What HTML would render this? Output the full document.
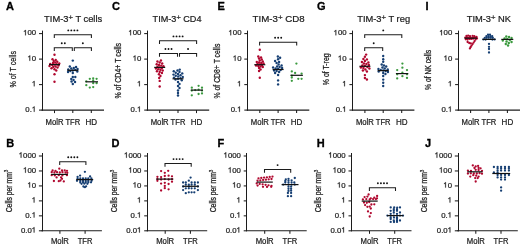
<!DOCTYPE html>
<html><head><meta charset="utf-8"><style>
html,body{margin:0;padding:0;background:#fff;}
svg{display:block;font-family:"Liberation Sans", sans-serif;filter:blur(0.4px);}
</style></head><body>
<svg width="520" height="246" viewBox="0 0 520 246">
<rect width="520" height="246" fill="#fff"/>
<text x="5.90" y="10.00" font-size="11" text-anchor="start" font-weight="bold" fill="#000" stroke="#000" stroke-width="0.3">A</text>
<text x="44.10" y="22.0" font-size="9.5" fill="#1c1c1c" textLength="58.1" lengthAdjust="spacingAndGlyphs" stroke="#1c1c1c" stroke-width="0.22">TIM-3<tspan font-size="7.8" dy="-2.2">+</tspan><tspan dy="2.2"> T cells</tspan></text>
<line x1="42.50" y1="30.60" x2="42.50" y2="110.60" stroke="#1c1c1c" stroke-width="1.05"/>
<line x1="41.50" y1="110.10" x2="104.00" y2="110.10" stroke="#1c1c1c" stroke-width="1.05"/>
<line x1="39.00" y1="33.60" x2="42.50" y2="33.60" stroke="#1c1c1c" stroke-width="1.05"/>
<text x="23.19" y="35.30" font-size="7.8" fill="#1c1c1c" stroke="#1c1c1c" stroke-width="0.22"> 00</text>
<path d="M696 0L516 0L516 1120Q440 1050 340 995Q250 945 180 920L180 1090Q330 1160 430 1250Q520 1330 560 1409L696 1409Z" transform="translate(23.186,35.300) scale(0.00381,-0.00381)" fill="#1c1c1c" stroke="#1c1c1c" stroke-width="57.8"/>
<line x1="39.00" y1="59.10" x2="42.50" y2="59.10" stroke="#1c1c1c" stroke-width="1.05"/>
<text x="27.52" y="60.80" font-size="7.8" fill="#1c1c1c" stroke="#1c1c1c" stroke-width="0.22"> 0</text>
<path d="M696 0L516 0L516 1120Q440 1050 340 995Q250 945 180 920L180 1090Q330 1160 430 1250Q520 1330 560 1409L696 1409Z" transform="translate(27.524,60.800) scale(0.00381,-0.00381)" fill="#1c1c1c" stroke="#1c1c1c" stroke-width="57.8"/>
<line x1="39.00" y1="84.60" x2="42.50" y2="84.60" stroke="#1c1c1c" stroke-width="1.05"/>
<text x="31.86" y="86.30" font-size="7.8" fill="#1c1c1c" stroke="#1c1c1c" stroke-width="0.22"> </text>
<path d="M696 0L516 0L516 1120Q440 1050 340 995Q250 945 180 920L180 1090Q330 1160 430 1250Q520 1330 560 1409L696 1409Z" transform="translate(31.862,86.300) scale(0.00381,-0.00381)" fill="#1c1c1c" stroke="#1c1c1c" stroke-width="57.8"/>
<line x1="39.00" y1="110.10" x2="42.50" y2="110.10" stroke="#1c1c1c" stroke-width="1.05"/>
<text x="25.36" y="111.80" font-size="7.8" fill="#1c1c1c" stroke="#1c1c1c" stroke-width="0.22">0. </text>
<path d="M696 0L516 0L516 1120Q440 1050 340 995Q250 945 180 920L180 1090Q330 1160 430 1250Q520 1330 560 1409L696 1409Z" transform="translate(31.862,111.800) scale(0.00381,-0.00381)" fill="#1c1c1c" stroke="#1c1c1c" stroke-width="57.8"/>
<line x1="54.50" y1="110.10" x2="54.50" y2="113.10" stroke="#1c1c1c" stroke-width="1.05"/>
<line x1="72.80" y1="110.10" x2="72.80" y2="113.10" stroke="#1c1c1c" stroke-width="1.05"/>
<line x1="91.30" y1="110.10" x2="91.30" y2="113.10" stroke="#1c1c1c" stroke-width="1.05"/>
<text x="54.50" y="124.60" font-size="8.3" text-anchor="middle" font-weight="normal" fill="#1c1c1c" stroke="#1c1c1c" stroke-width="0.22" textLength="18.0" lengthAdjust="spacingAndGlyphs">MolR</text>
<text x="72.80" y="124.60" font-size="8.3" text-anchor="middle" font-weight="normal" fill="#1c1c1c" stroke="#1c1c1c" stroke-width="0.22" textLength="14.8" lengthAdjust="spacingAndGlyphs">TFR</text>
<text x="91.30" y="124.60" font-size="8.3" text-anchor="middle" font-weight="normal" fill="#1c1c1c" stroke="#1c1c1c" stroke-width="0.22" textLength="11.6" lengthAdjust="spacingAndGlyphs">HD</text>
<text x="0" y="0" font-size="8.3" text-anchor="middle" fill="#1c1c1c" textLength="36.6" lengthAdjust="spacingAndGlyphs" transform="translate(15.60,69.30) rotate(-90)" stroke="#1c1c1c" stroke-width="0.25">% of T cells</text>
<path d="M54.30 38.10V34.80H91.40V38.10" fill="none" stroke="#1c1c1c" stroke-width="1.05"/>
<circle cx="68.27" cy="30.40" r="0.95" fill="#111"/>
<circle cx="71.32" cy="30.40" r="0.95" fill="#111"/>
<circle cx="74.38" cy="30.40" r="0.95" fill="#111"/>
<circle cx="77.42" cy="30.40" r="0.95" fill="#111"/>
<path d="M54.30 51.00V47.70H72.30V51.00" fill="none" stroke="#1c1c1c" stroke-width="1.05"/>
<circle cx="61.77" cy="43.30" r="0.95" fill="#111"/>
<circle cx="64.83" cy="43.30" r="0.95" fill="#111"/>
<path d="M74.30 51.00V47.70H91.40V51.00" fill="none" stroke="#1c1c1c" stroke-width="1.05"/>
<circle cx="82.85" cy="43.30" r="0.95" fill="#111"/>
<circle cx="54.50" cy="64.60" r="1.2" fill="#b0072e"/>
<circle cx="56.75" cy="64.30" r="1.2" fill="#b0072e"/>
<circle cx="52.25" cy="65.00" r="1.2" fill="#b0072e"/>
<circle cx="50.25" cy="64.00" r="1.2" fill="#b0072e"/>
<circle cx="58.50" cy="65.50" r="1.2" fill="#b0072e"/>
<circle cx="59.25" cy="63.50" r="1.2" fill="#b0072e"/>
<circle cx="49.50" cy="66.00" r="1.2" fill="#b0072e"/>
<circle cx="53.00" cy="63.00" r="1.2" fill="#b0072e"/>
<circle cx="55.50" cy="66.50" r="1.2" fill="#b0072e"/>
<circle cx="55.25" cy="62.50" r="1.2" fill="#b0072e"/>
<circle cx="53.25" cy="67.00" r="1.2" fill="#b0072e"/>
<circle cx="57.25" cy="61.80" r="1.2" fill="#b0072e"/>
<circle cx="57.50" cy="67.60" r="1.2" fill="#b0072e"/>
<circle cx="53.75" cy="61.00" r="1.2" fill="#b0072e"/>
<circle cx="51.50" cy="68.30" r="1.2" fill="#b0072e"/>
<circle cx="55.75" cy="60.00" r="1.2" fill="#b0072e"/>
<circle cx="54.50" cy="69.20" r="1.2" fill="#b0072e"/>
<circle cx="52.50" cy="59.30" r="1.2" fill="#b0072e"/>
<circle cx="56.25" cy="70.50" r="1.2" fill="#b0072e"/>
<circle cx="54.50" cy="74.30" r="1.2" fill="#b0072e"/>
<circle cx="54.50" cy="54.80" r="1.2" fill="#b0072e"/>
<circle cx="54.50" cy="81.70" r="1.2" fill="#b0072e"/>
<line x1="49.00" y1="64.60" x2="60.00" y2="64.60" stroke="#111" stroke-width="1.2"/>
<circle cx="72.80" cy="70.50" r="1.2" fill="#163f73"/>
<circle cx="75.30" cy="70.00" r="1.2" fill="#163f73"/>
<circle cx="70.30" cy="71.00" r="1.2" fill="#163f73"/>
<circle cx="68.30" cy="69.50" r="1.2" fill="#163f73"/>
<circle cx="77.30" cy="71.50" r="1.2" fill="#163f73"/>
<circle cx="77.55" cy="69.00" r="1.2" fill="#163f73"/>
<circle cx="68.05" cy="72.00" r="1.2" fill="#163f73"/>
<circle cx="71.30" cy="68.50" r="1.2" fill="#163f73"/>
<circle cx="73.80" cy="68.00" r="1.2" fill="#163f73"/>
<circle cx="72.80" cy="73.00" r="1.2" fill="#163f73"/>
<circle cx="76.05" cy="67.00" r="1.2" fill="#163f73"/>
<circle cx="69.80" cy="66.50" r="1.2" fill="#163f73"/>
<circle cx="72.80" cy="77.00" r="1.2" fill="#163f73"/>
<circle cx="75.30" cy="77.00" r="1.2" fill="#163f73"/>
<circle cx="71.30" cy="79.00" r="1.2" fill="#163f73"/>
<circle cx="72.80" cy="60.60" r="1.2" fill="#163f73"/>
<circle cx="73.55" cy="80.00" r="1.2" fill="#163f73"/>
<circle cx="71.55" cy="81.50" r="1.2" fill="#163f73"/>
<circle cx="75.05" cy="82.00" r="1.2" fill="#163f73"/>
<circle cx="72.80" cy="84.00" r="1.2" fill="#163f73"/>
<line x1="67.30" y1="70.30" x2="78.30" y2="70.30" stroke="#111" stroke-width="1.2"/>
<circle cx="89.80" cy="78.80" r="1.15" fill="#3a9a3e"/>
<circle cx="93.20" cy="78.30" r="1.15" fill="#3a9a3e"/>
<circle cx="96.60" cy="78.80" r="1.15" fill="#3a9a3e"/>
<circle cx="86.30" cy="81.30" r="1.15" fill="#3a9a3e"/>
<circle cx="93.20" cy="80.50" r="1.15" fill="#3a9a3e"/>
<circle cx="93.20" cy="83.20" r="1.15" fill="#3a9a3e"/>
<circle cx="96.60" cy="83.20" r="1.15" fill="#3a9a3e"/>
<circle cx="86.30" cy="85.20" r="1.15" fill="#3a9a3e"/>
<circle cx="89.80" cy="87.60" r="1.15" fill="#3a9a3e"/>
<circle cx="93.20" cy="87.10" r="1.15" fill="#3a9a3e"/>
<line x1="85.40" y1="81.80" x2="98.00" y2="81.80" stroke="#111" stroke-width="1.2"/>
<text x="111.90" y="10.00" font-size="11" text-anchor="start" font-weight="bold" fill="#000" stroke="#000" stroke-width="0.3">C</text>
<text x="152.60" y="22.0" font-size="9.5" fill="#1c1c1c" textLength="48.9" lengthAdjust="spacingAndGlyphs" stroke="#1c1c1c" stroke-width="0.22">TIM-3<tspan font-size="7.8" dy="-2.2">+</tspan><tspan dy="2.2"> CD4</tspan></text>
<line x1="147.50" y1="30.60" x2="147.50" y2="110.60" stroke="#1c1c1c" stroke-width="1.05"/>
<line x1="146.70" y1="110.10" x2="209.20" y2="110.10" stroke="#1c1c1c" stroke-width="1.05"/>
<line x1="144.20" y1="33.60" x2="147.50" y2="33.60" stroke="#1c1c1c" stroke-width="1.05"/>
<text x="128.39" y="35.30" font-size="7.8" fill="#1c1c1c" stroke="#1c1c1c" stroke-width="0.22"> 00</text>
<path d="M696 0L516 0L516 1120Q440 1050 340 995Q250 945 180 920L180 1090Q330 1160 430 1250Q520 1330 560 1409L696 1409Z" transform="translate(128.386,35.300) scale(0.00381,-0.00381)" fill="#1c1c1c" stroke="#1c1c1c" stroke-width="57.8"/>
<line x1="144.20" y1="59.10" x2="147.50" y2="59.10" stroke="#1c1c1c" stroke-width="1.05"/>
<text x="132.72" y="60.80" font-size="7.8" fill="#1c1c1c" stroke="#1c1c1c" stroke-width="0.22"> 0</text>
<path d="M696 0L516 0L516 1120Q440 1050 340 995Q250 945 180 920L180 1090Q330 1160 430 1250Q520 1330 560 1409L696 1409Z" transform="translate(132.724,60.800) scale(0.00381,-0.00381)" fill="#1c1c1c" stroke="#1c1c1c" stroke-width="57.8"/>
<line x1="144.20" y1="84.60" x2="147.50" y2="84.60" stroke="#1c1c1c" stroke-width="1.05"/>
<text x="137.06" y="86.30" font-size="7.8" fill="#1c1c1c" stroke="#1c1c1c" stroke-width="0.22"> </text>
<path d="M696 0L516 0L516 1120Q440 1050 340 995Q250 945 180 920L180 1090Q330 1160 430 1250Q520 1330 560 1409L696 1409Z" transform="translate(137.062,86.300) scale(0.00381,-0.00381)" fill="#1c1c1c" stroke="#1c1c1c" stroke-width="57.8"/>
<line x1="144.20" y1="110.10" x2="147.50" y2="110.10" stroke="#1c1c1c" stroke-width="1.05"/>
<text x="130.56" y="111.80" font-size="7.8" fill="#1c1c1c" stroke="#1c1c1c" stroke-width="0.22">0. </text>
<path d="M696 0L516 0L516 1120Q440 1050 340 995Q250 945 180 920L180 1090Q330 1160 430 1250Q520 1330 560 1409L696 1409Z" transform="translate(137.062,111.800) scale(0.00381,-0.00381)" fill="#1c1c1c" stroke="#1c1c1c" stroke-width="57.8"/>
<line x1="159.70" y1="110.10" x2="159.70" y2="113.10" stroke="#1c1c1c" stroke-width="1.05"/>
<line x1="178.00" y1="110.10" x2="178.00" y2="113.10" stroke="#1c1c1c" stroke-width="1.05"/>
<line x1="196.50" y1="110.10" x2="196.50" y2="113.10" stroke="#1c1c1c" stroke-width="1.05"/>
<text x="159.70" y="124.60" font-size="8.3" text-anchor="middle" font-weight="normal" fill="#1c1c1c" stroke="#1c1c1c" stroke-width="0.22" textLength="18.0" lengthAdjust="spacingAndGlyphs">MolR</text>
<text x="178.00" y="124.60" font-size="8.3" text-anchor="middle" font-weight="normal" fill="#1c1c1c" stroke="#1c1c1c" stroke-width="0.22" textLength="14.8" lengthAdjust="spacingAndGlyphs">TFR</text>
<text x="196.50" y="124.60" font-size="8.3" text-anchor="middle" font-weight="normal" fill="#1c1c1c" stroke="#1c1c1c" stroke-width="0.22" textLength="11.6" lengthAdjust="spacingAndGlyphs">HD</text>
<text x="0" y="0" font-size="8.3" text-anchor="middle" fill="#1c1c1c" textLength="55.6" lengthAdjust="spacingAndGlyphs" transform="translate(120.90,70.70) rotate(-90)" stroke="#1c1c1c" stroke-width="0.25">% of CD4+ T cells</text>
<path d="M159.50 44.10V40.80H196.60V44.10" fill="none" stroke="#1c1c1c" stroke-width="1.05"/>
<circle cx="173.48" cy="36.40" r="0.95" fill="#111"/>
<circle cx="176.53" cy="36.40" r="0.95" fill="#111"/>
<circle cx="179.58" cy="36.40" r="0.95" fill="#111"/>
<circle cx="182.62" cy="36.40" r="0.95" fill="#111"/>
<path d="M159.50 56.70V53.40H177.50V56.70" fill="none" stroke="#1c1c1c" stroke-width="1.05"/>
<circle cx="165.45" cy="49.00" r="0.95" fill="#111"/>
<circle cx="168.50" cy="49.00" r="0.95" fill="#111"/>
<circle cx="171.55" cy="49.00" r="0.95" fill="#111"/>
<path d="M179.50 56.70V53.40H196.60V56.70" fill="none" stroke="#1c1c1c" stroke-width="1.05"/>
<circle cx="188.05" cy="49.00" r="0.95" fill="#111"/>
<circle cx="159.70" cy="67.40" r="1.2" fill="#b0072e"/>
<circle cx="161.95" cy="68.00" r="1.2" fill="#b0072e"/>
<circle cx="157.45" cy="66.80" r="1.2" fill="#b0072e"/>
<circle cx="155.95" cy="68.60" r="1.2" fill="#b0072e"/>
<circle cx="163.45" cy="66.20" r="1.2" fill="#b0072e"/>
<circle cx="158.20" cy="69.20" r="1.2" fill="#b0072e"/>
<circle cx="161.20" cy="65.60" r="1.2" fill="#b0072e"/>
<circle cx="160.45" cy="69.80" r="1.2" fill="#b0072e"/>
<circle cx="158.95" cy="65.00" r="1.2" fill="#b0072e"/>
<circle cx="162.70" cy="70.50" r="1.2" fill="#b0072e"/>
<circle cx="156.70" cy="64.30" r="1.2" fill="#b0072e"/>
<circle cx="156.95" cy="71.20" r="1.2" fill="#b0072e"/>
<circle cx="162.20" cy="63.50" r="1.2" fill="#b0072e"/>
<circle cx="159.70" cy="72.00" r="1.2" fill="#b0072e"/>
<circle cx="159.70" cy="62.50" r="1.2" fill="#b0072e"/>
<circle cx="161.95" cy="73.00" r="1.2" fill="#b0072e"/>
<circle cx="157.45" cy="61.50" r="1.2" fill="#b0072e"/>
<circle cx="158.95" cy="74.20" r="1.2" fill="#b0072e"/>
<circle cx="160.95" cy="60.50" r="1.2" fill="#b0072e"/>
<circle cx="160.45" cy="76.00" r="1.2" fill="#b0072e"/>
<circle cx="159.20" cy="78.00" r="1.2" fill="#b0072e"/>
<circle cx="159.70" cy="80.90" r="1.2" fill="#b0072e"/>
<circle cx="159.70" cy="86.50" r="1.2" fill="#b0072e"/>
<line x1="154.20" y1="67.40" x2="165.20" y2="67.40" stroke="#111" stroke-width="1.2"/>
<circle cx="178.00" cy="78.80" r="1.2" fill="#163f73"/>
<circle cx="180.50" cy="78.20" r="1.2" fill="#163f73"/>
<circle cx="175.50" cy="79.50" r="1.2" fill="#163f73"/>
<circle cx="174.00" cy="77.60" r="1.2" fill="#163f73"/>
<circle cx="181.75" cy="80.30" r="1.2" fill="#163f73"/>
<circle cx="182.75" cy="77.00" r="1.2" fill="#163f73"/>
<circle cx="178.25" cy="76.40" r="1.2" fill="#163f73"/>
<circle cx="175.75" cy="75.80" r="1.2" fill="#163f73"/>
<circle cx="178.00" cy="82.00" r="1.2" fill="#163f73"/>
<circle cx="180.50" cy="75.20" r="1.2" fill="#163f73"/>
<circle cx="173.50" cy="74.60" r="1.2" fill="#163f73"/>
<circle cx="178.00" cy="74.00" r="1.2" fill="#163f73"/>
<circle cx="179.50" cy="84.00" r="1.2" fill="#163f73"/>
<circle cx="182.25" cy="73.40" r="1.2" fill="#163f73"/>
<circle cx="175.75" cy="72.70" r="1.2" fill="#163f73"/>
<circle cx="179.50" cy="72.00" r="1.2" fill="#163f73"/>
<circle cx="178.00" cy="86.00" r="1.2" fill="#163f73"/>
<circle cx="173.75" cy="71.30" r="1.2" fill="#163f73"/>
<circle cx="177.50" cy="70.50" r="1.2" fill="#163f73"/>
<circle cx="179.75" cy="69.60" r="1.2" fill="#163f73"/>
<circle cx="179.50" cy="88.00" r="1.2" fill="#163f73"/>
<circle cx="178.00" cy="90.50" r="1.2" fill="#163f73"/>
<circle cx="178.00" cy="93.00" r="1.2" fill="#163f73"/>
<circle cx="178.00" cy="95.50" r="1.2" fill="#163f73"/>
<line x1="172.50" y1="78.80" x2="183.50" y2="78.80" stroke="#111" stroke-width="1.2"/>
<circle cx="191.80" cy="87.70" r="1.15" fill="#3a9a3e"/>
<circle cx="198.60" cy="85.80" r="1.15" fill="#3a9a3e"/>
<circle cx="202.00" cy="87.70" r="1.15" fill="#3a9a3e"/>
<circle cx="191.80" cy="90.60" r="1.15" fill="#3a9a3e"/>
<circle cx="195.20" cy="90.10" r="1.15" fill="#3a9a3e"/>
<circle cx="198.60" cy="89.70" r="1.15" fill="#3a9a3e"/>
<circle cx="202.00" cy="90.60" r="1.15" fill="#3a9a3e"/>
<circle cx="198.60" cy="94.00" r="1.15" fill="#3a9a3e"/>
<circle cx="202.00" cy="93.40" r="1.15" fill="#3a9a3e"/>
<circle cx="191.80" cy="95.30" r="1.15" fill="#3a9a3e"/>
<line x1="190.80" y1="90.10" x2="203.00" y2="90.10" stroke="#111" stroke-width="1.2"/>
<text x="217.60" y="10.00" font-size="11" text-anchor="start" font-weight="bold" fill="#000" stroke="#000" stroke-width="0.3">E</text>
<text x="252.60" y="22.0" font-size="9.5" fill="#1c1c1c" textLength="52.1" lengthAdjust="spacingAndGlyphs" stroke="#1c1c1c" stroke-width="0.22">TIM-3<tspan font-size="7.8" dy="-2.2">+</tspan><tspan dy="2.2"> CD8</tspan></text>
<line x1="247.50" y1="30.60" x2="247.50" y2="110.60" stroke="#1c1c1c" stroke-width="1.05"/>
<line x1="246.80" y1="110.10" x2="309.30" y2="110.10" stroke="#1c1c1c" stroke-width="1.05"/>
<line x1="244.30" y1="33.60" x2="247.50" y2="33.60" stroke="#1c1c1c" stroke-width="1.05"/>
<text x="228.49" y="35.30" font-size="7.8" fill="#1c1c1c" stroke="#1c1c1c" stroke-width="0.22"> 00</text>
<path d="M696 0L516 0L516 1120Q440 1050 340 995Q250 945 180 920L180 1090Q330 1160 430 1250Q520 1330 560 1409L696 1409Z" transform="translate(228.486,35.300) scale(0.00381,-0.00381)" fill="#1c1c1c" stroke="#1c1c1c" stroke-width="57.8"/>
<line x1="244.30" y1="59.10" x2="247.50" y2="59.10" stroke="#1c1c1c" stroke-width="1.05"/>
<text x="232.82" y="60.80" font-size="7.8" fill="#1c1c1c" stroke="#1c1c1c" stroke-width="0.22"> 0</text>
<path d="M696 0L516 0L516 1120Q440 1050 340 995Q250 945 180 920L180 1090Q330 1160 430 1250Q520 1330 560 1409L696 1409Z" transform="translate(232.824,60.800) scale(0.00381,-0.00381)" fill="#1c1c1c" stroke="#1c1c1c" stroke-width="57.8"/>
<line x1="244.30" y1="84.60" x2="247.50" y2="84.60" stroke="#1c1c1c" stroke-width="1.05"/>
<text x="237.16" y="86.30" font-size="7.8" fill="#1c1c1c" stroke="#1c1c1c" stroke-width="0.22"> </text>
<path d="M696 0L516 0L516 1120Q440 1050 340 995Q250 945 180 920L180 1090Q330 1160 430 1250Q520 1330 560 1409L696 1409Z" transform="translate(237.162,86.300) scale(0.00381,-0.00381)" fill="#1c1c1c" stroke="#1c1c1c" stroke-width="57.8"/>
<line x1="244.30" y1="110.10" x2="247.50" y2="110.10" stroke="#1c1c1c" stroke-width="1.05"/>
<text x="230.66" y="111.80" font-size="7.8" fill="#1c1c1c" stroke="#1c1c1c" stroke-width="0.22">0. </text>
<path d="M696 0L516 0L516 1120Q440 1050 340 995Q250 945 180 920L180 1090Q330 1160 430 1250Q520 1330 560 1409L696 1409Z" transform="translate(237.162,111.800) scale(0.00381,-0.00381)" fill="#1c1c1c" stroke="#1c1c1c" stroke-width="57.8"/>
<line x1="259.80" y1="110.10" x2="259.80" y2="113.10" stroke="#1c1c1c" stroke-width="1.05"/>
<line x1="278.10" y1="110.10" x2="278.10" y2="113.10" stroke="#1c1c1c" stroke-width="1.05"/>
<line x1="296.60" y1="110.10" x2="296.60" y2="113.10" stroke="#1c1c1c" stroke-width="1.05"/>
<text x="259.80" y="124.60" font-size="8.3" text-anchor="middle" font-weight="normal" fill="#1c1c1c" stroke="#1c1c1c" stroke-width="0.22" textLength="18.0" lengthAdjust="spacingAndGlyphs">MolR</text>
<text x="278.10" y="124.60" font-size="8.3" text-anchor="middle" font-weight="normal" fill="#1c1c1c" stroke="#1c1c1c" stroke-width="0.22" textLength="14.8" lengthAdjust="spacingAndGlyphs">TFR</text>
<text x="296.60" y="124.60" font-size="8.3" text-anchor="middle" font-weight="normal" fill="#1c1c1c" stroke="#1c1c1c" stroke-width="0.22" textLength="11.6" lengthAdjust="spacingAndGlyphs">HD</text>
<text x="0" y="0" font-size="8.3" text-anchor="middle" fill="#1c1c1c" textLength="54.8" lengthAdjust="spacingAndGlyphs" transform="translate(219.60,71.10) rotate(-90)" stroke="#1c1c1c" stroke-width="0.25">% of CD8+ T cells</text>
<path d="M259.60 45.50V42.20H296.70V45.50" fill="none" stroke="#1c1c1c" stroke-width="1.05"/>
<circle cx="275.10" cy="37.80" r="0.95" fill="#111"/>
<circle cx="278.15" cy="37.80" r="0.95" fill="#111"/>
<circle cx="281.20" cy="37.80" r="0.95" fill="#111"/>
<circle cx="259.80" cy="64.50" r="1.2" fill="#b0072e"/>
<circle cx="262.05" cy="65.00" r="1.2" fill="#b0072e"/>
<circle cx="257.55" cy="64.00" r="1.2" fill="#b0072e"/>
<circle cx="256.05" cy="65.50" r="1.2" fill="#b0072e"/>
<circle cx="263.55" cy="63.50" r="1.2" fill="#b0072e"/>
<circle cx="258.30" cy="66.00" r="1.2" fill="#b0072e"/>
<circle cx="261.30" cy="63.00" r="1.2" fill="#b0072e"/>
<circle cx="260.55" cy="66.50" r="1.2" fill="#b0072e"/>
<circle cx="259.05" cy="62.50" r="1.2" fill="#b0072e"/>
<circle cx="262.80" cy="67.00" r="1.2" fill="#b0072e"/>
<circle cx="256.80" cy="62.00" r="1.2" fill="#b0072e"/>
<circle cx="262.80" cy="61.50" r="1.2" fill="#b0072e"/>
<circle cx="259.05" cy="68.00" r="1.2" fill="#b0072e"/>
<circle cx="259.80" cy="60.50" r="1.2" fill="#b0072e"/>
<circle cx="260.55" cy="69.50" r="1.2" fill="#b0072e"/>
<circle cx="261.80" cy="59.50" r="1.2" fill="#b0072e"/>
<circle cx="259.05" cy="58.50" r="1.2" fill="#b0072e"/>
<circle cx="259.05" cy="71.00" r="1.2" fill="#b0072e"/>
<circle cx="261.05" cy="57.50" r="1.2" fill="#b0072e"/>
<circle cx="258.30" cy="56.50" r="1.2" fill="#b0072e"/>
<circle cx="259.80" cy="77.70" r="1.2" fill="#b0072e"/>
<circle cx="259.80" cy="49.70" r="1.2" fill="#b0072e"/>
<line x1="254.30" y1="64.70" x2="265.30" y2="64.70" stroke="#111" stroke-width="1.2"/>
<circle cx="278.10" cy="69.00" r="1.2" fill="#163f73"/>
<circle cx="280.60" cy="70.00" r="1.2" fill="#163f73"/>
<circle cx="275.60" cy="68.50" r="1.2" fill="#163f73"/>
<circle cx="274.10" cy="70.50" r="1.2" fill="#163f73"/>
<circle cx="282.10" cy="68.00" r="1.2" fill="#163f73"/>
<circle cx="276.60" cy="71.00" r="1.2" fill="#163f73"/>
<circle cx="273.10" cy="67.50" r="1.2" fill="#163f73"/>
<circle cx="279.60" cy="67.00" r="1.2" fill="#163f73"/>
<circle cx="279.10" cy="72.00" r="1.2" fill="#163f73"/>
<circle cx="277.10" cy="66.50" r="1.2" fill="#163f73"/>
<circle cx="275.10" cy="73.00" r="1.2" fill="#163f73"/>
<circle cx="281.60" cy="65.50" r="1.2" fill="#163f73"/>
<circle cx="278.60" cy="64.50" r="1.2" fill="#163f73"/>
<circle cx="278.10" cy="75.00" r="1.2" fill="#163f73"/>
<circle cx="276.60" cy="63.00" r="1.2" fill="#163f73"/>
<circle cx="279.10" cy="62.00" r="1.2" fill="#163f73"/>
<circle cx="275.10" cy="61.00" r="1.2" fill="#163f73"/>
<circle cx="278.10" cy="59.30" r="1.2" fill="#163f73"/>
<circle cx="278.10" cy="80.40" r="1.2" fill="#163f73"/>
<circle cx="280.10" cy="57.70" r="1.2" fill="#163f73"/>
<circle cx="277.85" cy="56.50" r="1.2" fill="#163f73"/>
<circle cx="278.10" cy="84.40" r="1.2" fill="#163f73"/>
<line x1="272.60" y1="69.50" x2="283.60" y2="69.50" stroke="#111" stroke-width="1.2"/>
<circle cx="296.40" cy="63.60" r="1.15" fill="#3a9a3e"/>
<circle cx="291.80" cy="71.40" r="1.15" fill="#3a9a3e"/>
<circle cx="295.10" cy="73.00" r="1.15" fill="#3a9a3e"/>
<circle cx="301.60" cy="73.60" r="1.15" fill="#3a9a3e"/>
<circle cx="291.80" cy="75.60" r="1.15" fill="#3a9a3e"/>
<circle cx="291.80" cy="77.50" r="1.15" fill="#3a9a3e"/>
<circle cx="298.30" cy="78.80" r="1.15" fill="#3a9a3e"/>
<circle cx="301.60" cy="78.80" r="1.15" fill="#3a9a3e"/>
<circle cx="291.80" cy="80.80" r="1.15" fill="#3a9a3e"/>
<line x1="290.50" y1="75.30" x2="302.90" y2="75.30" stroke="#111" stroke-width="1.2"/>
<text x="317.00" y="10.00" font-size="11" text-anchor="start" font-weight="bold" fill="#000" stroke="#000" stroke-width="0.3">G</text>
<text x="357.20" y="22.0" font-size="9.5" fill="#1c1c1c" textLength="52.9" lengthAdjust="spacingAndGlyphs" stroke="#1c1c1c" stroke-width="0.22">TIM-3<tspan font-size="7.8" dy="-2.2">+</tspan><tspan dy="2.2"> T reg</tspan></text>
<line x1="352.50" y1="30.60" x2="352.50" y2="110.60" stroke="#1c1c1c" stroke-width="1.05"/>
<line x1="351.90" y1="110.10" x2="414.40" y2="110.10" stroke="#1c1c1c" stroke-width="1.05"/>
<line x1="349.40" y1="33.60" x2="352.50" y2="33.60" stroke="#1c1c1c" stroke-width="1.05"/>
<text x="333.59" y="35.30" font-size="7.8" fill="#1c1c1c" stroke="#1c1c1c" stroke-width="0.22"> 00</text>
<path d="M696 0L516 0L516 1120Q440 1050 340 995Q250 945 180 920L180 1090Q330 1160 430 1250Q520 1330 560 1409L696 1409Z" transform="translate(333.586,35.300) scale(0.00381,-0.00381)" fill="#1c1c1c" stroke="#1c1c1c" stroke-width="57.8"/>
<line x1="349.40" y1="59.10" x2="352.50" y2="59.10" stroke="#1c1c1c" stroke-width="1.05"/>
<text x="337.92" y="60.80" font-size="7.8" fill="#1c1c1c" stroke="#1c1c1c" stroke-width="0.22"> 0</text>
<path d="M696 0L516 0L516 1120Q440 1050 340 995Q250 945 180 920L180 1090Q330 1160 430 1250Q520 1330 560 1409L696 1409Z" transform="translate(337.924,60.800) scale(0.00381,-0.00381)" fill="#1c1c1c" stroke="#1c1c1c" stroke-width="57.8"/>
<line x1="349.40" y1="84.60" x2="352.50" y2="84.60" stroke="#1c1c1c" stroke-width="1.05"/>
<text x="342.26" y="86.30" font-size="7.8" fill="#1c1c1c" stroke="#1c1c1c" stroke-width="0.22"> </text>
<path d="M696 0L516 0L516 1120Q440 1050 340 995Q250 945 180 920L180 1090Q330 1160 430 1250Q520 1330 560 1409L696 1409Z" transform="translate(342.262,86.300) scale(0.00381,-0.00381)" fill="#1c1c1c" stroke="#1c1c1c" stroke-width="57.8"/>
<line x1="349.40" y1="110.10" x2="352.50" y2="110.10" stroke="#1c1c1c" stroke-width="1.05"/>
<text x="335.76" y="111.80" font-size="7.8" fill="#1c1c1c" stroke="#1c1c1c" stroke-width="0.22">0. </text>
<path d="M696 0L516 0L516 1120Q440 1050 340 995Q250 945 180 920L180 1090Q330 1160 430 1250Q520 1330 560 1409L696 1409Z" transform="translate(342.262,111.800) scale(0.00381,-0.00381)" fill="#1c1c1c" stroke="#1c1c1c" stroke-width="57.8"/>
<line x1="364.90" y1="110.10" x2="364.90" y2="113.10" stroke="#1c1c1c" stroke-width="1.05"/>
<line x1="383.20" y1="110.10" x2="383.20" y2="113.10" stroke="#1c1c1c" stroke-width="1.05"/>
<line x1="401.70" y1="110.10" x2="401.70" y2="113.10" stroke="#1c1c1c" stroke-width="1.05"/>
<text x="364.90" y="124.60" font-size="8.3" text-anchor="middle" font-weight="normal" fill="#1c1c1c" stroke="#1c1c1c" stroke-width="0.22" textLength="18.0" lengthAdjust="spacingAndGlyphs">MolR</text>
<text x="383.20" y="124.60" font-size="8.3" text-anchor="middle" font-weight="normal" fill="#1c1c1c" stroke="#1c1c1c" stroke-width="0.22" textLength="14.8" lengthAdjust="spacingAndGlyphs">TFR</text>
<text x="401.70" y="124.60" font-size="8.3" text-anchor="middle" font-weight="normal" fill="#1c1c1c" stroke="#1c1c1c" stroke-width="0.22" textLength="11.6" lengthAdjust="spacingAndGlyphs">HD</text>
<text x="0" y="0" font-size="8.3" text-anchor="middle" fill="#1c1c1c" textLength="31.7" lengthAdjust="spacingAndGlyphs" transform="translate(328.50,69.30) rotate(-90)" stroke="#1c1c1c" stroke-width="0.25">% of T-reg</text>
<path d="M364.70 38.10V34.80H401.80V38.10" fill="none" stroke="#1c1c1c" stroke-width="1.05"/>
<circle cx="383.25" cy="30.40" r="0.95" fill="#111"/>
<path d="M364.70 51.00V47.70H382.70V51.00" fill="none" stroke="#1c1c1c" stroke-width="1.05"/>
<circle cx="373.70" cy="43.30" r="0.95" fill="#111"/>
<circle cx="364.90" cy="66.00" r="1.2" fill="#b0072e"/>
<circle cx="367.40" cy="67.00" r="1.2" fill="#b0072e"/>
<circle cx="362.40" cy="65.50" r="1.2" fill="#b0072e"/>
<circle cx="360.90" cy="67.50" r="1.2" fill="#b0072e"/>
<circle cx="368.90" cy="65.00" r="1.2" fill="#b0072e"/>
<circle cx="363.40" cy="68.00" r="1.2" fill="#b0072e"/>
<circle cx="369.40" cy="68.50" r="1.2" fill="#b0072e"/>
<circle cx="366.40" cy="64.00" r="1.2" fill="#b0072e"/>
<circle cx="363.90" cy="63.50" r="1.2" fill="#b0072e"/>
<circle cx="365.40" cy="69.50" r="1.2" fill="#b0072e"/>
<circle cx="368.40" cy="62.50" r="1.2" fill="#b0072e"/>
<circle cx="362.90" cy="70.50" r="1.2" fill="#b0072e"/>
<circle cx="361.90" cy="62.00" r="1.2" fill="#b0072e"/>
<circle cx="366.90" cy="71.50" r="1.2" fill="#b0072e"/>
<circle cx="364.90" cy="61.00" r="1.2" fill="#b0072e"/>
<circle cx="366.90" cy="59.40" r="1.2" fill="#b0072e"/>
<circle cx="363.40" cy="59.00" r="1.2" fill="#b0072e"/>
<circle cx="364.90" cy="75.10" r="1.2" fill="#b0072e"/>
<circle cx="364.90" cy="56.80" r="1.2" fill="#b0072e"/>
<circle cx="366.15" cy="54.60" r="1.2" fill="#b0072e"/>
<circle cx="364.90" cy="78.00" r="1.2" fill="#b0072e"/>
<circle cx="366.90" cy="79.50" r="1.2" fill="#b0072e"/>
<line x1="359.40" y1="66.30" x2="370.40" y2="66.30" stroke="#111" stroke-width="1.2"/>
<circle cx="383.20" cy="70.50" r="1.2" fill="#163f73"/>
<circle cx="385.70" cy="71.00" r="1.2" fill="#163f73"/>
<circle cx="380.70" cy="70.00" r="1.2" fill="#163f73"/>
<circle cx="378.70" cy="71.50" r="1.2" fill="#163f73"/>
<circle cx="387.70" cy="69.50" r="1.2" fill="#163f73"/>
<circle cx="387.95" cy="72.00" r="1.2" fill="#163f73"/>
<circle cx="378.45" cy="69.00" r="1.2" fill="#163f73"/>
<circle cx="384.70" cy="68.50" r="1.2" fill="#163f73"/>
<circle cx="383.20" cy="73.00" r="1.2" fill="#163f73"/>
<circle cx="382.45" cy="67.50" r="1.2" fill="#163f73"/>
<circle cx="385.45" cy="74.00" r="1.2" fill="#163f73"/>
<circle cx="386.20" cy="66.50" r="1.2" fill="#163f73"/>
<circle cx="383.95" cy="65.50" r="1.2" fill="#163f73"/>
<circle cx="383.20" cy="76.00" r="1.2" fill="#163f73"/>
<circle cx="381.70" cy="64.50" r="1.2" fill="#163f73"/>
<circle cx="383.20" cy="61.70" r="1.2" fill="#163f73"/>
<circle cx="383.20" cy="79.60" r="1.2" fill="#163f73"/>
<circle cx="383.20" cy="59.30" r="1.2" fill="#163f73"/>
<circle cx="383.20" cy="82.80" r="1.2" fill="#163f73"/>
<circle cx="383.20" cy="56.00" r="1.2" fill="#163f73"/>
<circle cx="383.20" cy="86.00" r="1.2" fill="#163f73"/>
<line x1="377.70" y1="70.60" x2="388.70" y2="70.60" stroke="#111" stroke-width="1.2"/>
<circle cx="402.40" cy="63.60" r="1.15" fill="#3a9a3e"/>
<circle cx="402.40" cy="67.70" r="1.15" fill="#3a9a3e"/>
<circle cx="397.20" cy="70.10" r="1.15" fill="#3a9a3e"/>
<circle cx="407.00" cy="70.10" r="1.15" fill="#3a9a3e"/>
<circle cx="402.40" cy="72.70" r="1.15" fill="#3a9a3e"/>
<circle cx="397.20" cy="74.30" r="1.15" fill="#3a9a3e"/>
<circle cx="407.00" cy="74.30" r="1.15" fill="#3a9a3e"/>
<circle cx="402.40" cy="76.20" r="1.15" fill="#3a9a3e"/>
<circle cx="397.20" cy="78.40" r="1.15" fill="#3a9a3e"/>
<circle cx="407.00" cy="77.90" r="1.15" fill="#3a9a3e"/>
<line x1="395.90" y1="73.60" x2="408.30" y2="73.60" stroke="#111" stroke-width="1.2"/>
<text x="425.60" y="10.00" font-size="11" text-anchor="start" font-weight="bold" fill="#000" stroke="#000" stroke-width="0.3">I</text>
<text x="466.70" y="22.0" font-size="9.5" fill="#1c1c1c" textLength="44.4" lengthAdjust="spacingAndGlyphs" stroke="#1c1c1c" stroke-width="0.22">TIM-3<tspan font-size="7.8" dy="-2.2">+</tspan><tspan dy="2.2"> NK</tspan></text>
<line x1="458.50" y1="30.60" x2="458.50" y2="110.60" stroke="#1c1c1c" stroke-width="1.05"/>
<line x1="457.60" y1="110.10" x2="520.10" y2="110.10" stroke="#1c1c1c" stroke-width="1.05"/>
<line x1="455.10" y1="33.60" x2="458.50" y2="33.60" stroke="#1c1c1c" stroke-width="1.05"/>
<text x="439.29" y="35.30" font-size="7.8" fill="#1c1c1c" stroke="#1c1c1c" stroke-width="0.22"> 00</text>
<path d="M696 0L516 0L516 1120Q440 1050 340 995Q250 945 180 920L180 1090Q330 1160 430 1250Q520 1330 560 1409L696 1409Z" transform="translate(439.286,35.300) scale(0.00381,-0.00381)" fill="#1c1c1c" stroke="#1c1c1c" stroke-width="57.8"/>
<line x1="455.10" y1="59.10" x2="458.50" y2="59.10" stroke="#1c1c1c" stroke-width="1.05"/>
<text x="443.62" y="60.80" font-size="7.8" fill="#1c1c1c" stroke="#1c1c1c" stroke-width="0.22"> 0</text>
<path d="M696 0L516 0L516 1120Q440 1050 340 995Q250 945 180 920L180 1090Q330 1160 430 1250Q520 1330 560 1409L696 1409Z" transform="translate(443.624,60.800) scale(0.00381,-0.00381)" fill="#1c1c1c" stroke="#1c1c1c" stroke-width="57.8"/>
<line x1="455.10" y1="84.60" x2="458.50" y2="84.60" stroke="#1c1c1c" stroke-width="1.05"/>
<text x="447.96" y="86.30" font-size="7.8" fill="#1c1c1c" stroke="#1c1c1c" stroke-width="0.22"> </text>
<path d="M696 0L516 0L516 1120Q440 1050 340 995Q250 945 180 920L180 1090Q330 1160 430 1250Q520 1330 560 1409L696 1409Z" transform="translate(447.962,86.300) scale(0.00381,-0.00381)" fill="#1c1c1c" stroke="#1c1c1c" stroke-width="57.8"/>
<line x1="455.10" y1="110.10" x2="458.50" y2="110.10" stroke="#1c1c1c" stroke-width="1.05"/>
<text x="441.46" y="111.80" font-size="7.8" fill="#1c1c1c" stroke="#1c1c1c" stroke-width="0.22">0. </text>
<path d="M696 0L516 0L516 1120Q440 1050 340 995Q250 945 180 920L180 1090Q330 1160 430 1250Q520 1330 560 1409L696 1409Z" transform="translate(447.962,111.800) scale(0.00381,-0.00381)" fill="#1c1c1c" stroke="#1c1c1c" stroke-width="57.8"/>
<line x1="470.60" y1="110.10" x2="470.60" y2="113.10" stroke="#1c1c1c" stroke-width="1.05"/>
<line x1="488.90" y1="110.10" x2="488.90" y2="113.10" stroke="#1c1c1c" stroke-width="1.05"/>
<line x1="507.40" y1="110.10" x2="507.40" y2="113.10" stroke="#1c1c1c" stroke-width="1.05"/>
<text x="470.60" y="124.60" font-size="8.3" text-anchor="middle" font-weight="normal" fill="#1c1c1c" stroke="#1c1c1c" stroke-width="0.22" textLength="18.0" lengthAdjust="spacingAndGlyphs">MolR</text>
<text x="488.90" y="124.60" font-size="8.3" text-anchor="middle" font-weight="normal" fill="#1c1c1c" stroke="#1c1c1c" stroke-width="0.22" textLength="14.8" lengthAdjust="spacingAndGlyphs">TFR</text>
<text x="507.40" y="124.60" font-size="8.3" text-anchor="middle" font-weight="normal" fill="#1c1c1c" stroke="#1c1c1c" stroke-width="0.22" textLength="11.6" lengthAdjust="spacingAndGlyphs">HD</text>
<text x="0" y="0" font-size="8.3" text-anchor="middle" fill="#1c1c1c" textLength="40.2" lengthAdjust="spacingAndGlyphs" transform="translate(431.40,69.90) rotate(-90)" stroke="#1c1c1c" stroke-width="0.25">% of NK cells</text>
<circle cx="466.50" cy="36.00" r="1.15" fill="#b0072e"/>
<circle cx="468.20" cy="35.60" r="1.15" fill="#b0072e"/>
<circle cx="472.60" cy="35.80" r="1.15" fill="#b0072e"/>
<circle cx="474.30" cy="36.20" r="1.15" fill="#b0072e"/>
<circle cx="465.30" cy="37.60" r="1.15" fill="#b0072e"/>
<circle cx="467.00" cy="37.40" r="1.15" fill="#b0072e"/>
<circle cx="468.80" cy="37.80" r="1.15" fill="#b0072e"/>
<circle cx="470.50" cy="37.50" r="1.15" fill="#b0072e"/>
<circle cx="472.20" cy="37.80" r="1.15" fill="#b0072e"/>
<circle cx="474.00" cy="37.60" r="1.15" fill="#b0072e"/>
<circle cx="475.80" cy="37.60" r="1.15" fill="#b0072e"/>
<circle cx="477.00" cy="38.40" r="1.15" fill="#b0072e"/>
<circle cx="465.80" cy="39.30" r="1.15" fill="#b0072e"/>
<circle cx="467.60" cy="39.50" r="1.15" fill="#b0072e"/>
<circle cx="475.60" cy="39.60" r="1.15" fill="#b0072e"/>
<circle cx="466.20" cy="38.60" r="1.15" fill="#b0072e"/>
<circle cx="469.60" cy="38.90" r="1.15" fill="#b0072e"/>
<circle cx="471.30" cy="38.90" r="1.15" fill="#b0072e"/>
<circle cx="473.10" cy="38.70" r="1.15" fill="#b0072e"/>
<circle cx="476.50" cy="37.00" r="1.15" fill="#b0072e"/>
<circle cx="470.00" cy="36.20" r="1.15" fill="#b0072e"/>
<circle cx="474.60" cy="41.10" r="1.15" fill="#b0072e"/>
<circle cx="473.60" cy="42.60" r="1.15" fill="#b0072e"/>
<circle cx="472.60" cy="44.10" r="1.15" fill="#b0072e"/>
<circle cx="471.60" cy="45.60" r="1.15" fill="#b0072e"/>
<circle cx="470.70" cy="47.00" r="1.15" fill="#b0072e"/>
<circle cx="469.90" cy="48.40" r="1.15" fill="#b0072e"/>
<circle cx="467.60" cy="42.00" r="1.15" fill="#b0072e"/>
<circle cx="469.20" cy="43.00" r="1.15" fill="#b0072e"/>
<circle cx="470.80" cy="43.40" r="1.15" fill="#b0072e"/>
<line x1="464.50" y1="38.20" x2="477.00" y2="38.20" stroke="#111" stroke-width="1.2"/>
<circle cx="488.00" cy="34.60" r="1.15" fill="#163f73"/>
<circle cx="490.00" cy="34.60" r="1.15" fill="#163f73"/>
<circle cx="486.40" cy="36.20" r="1.15" fill="#163f73"/>
<circle cx="488.40" cy="36.20" r="1.15" fill="#163f73"/>
<circle cx="490.40" cy="36.20" r="1.15" fill="#163f73"/>
<circle cx="492.20" cy="36.20" r="1.15" fill="#163f73"/>
<circle cx="484.80" cy="37.80" r="1.15" fill="#163f73"/>
<circle cx="486.80" cy="37.80" r="1.15" fill="#163f73"/>
<circle cx="488.80" cy="37.80" r="1.15" fill="#163f73"/>
<circle cx="490.80" cy="37.80" r="1.15" fill="#163f73"/>
<circle cx="492.80" cy="37.80" r="1.15" fill="#163f73"/>
<circle cx="483.40" cy="39.40" r="1.15" fill="#163f73"/>
<circle cx="485.60" cy="39.60" r="1.15" fill="#163f73"/>
<circle cx="492.40" cy="39.60" r="1.15" fill="#163f73"/>
<circle cx="494.60" cy="39.40" r="1.15" fill="#163f73"/>
<circle cx="489.00" cy="43.90" r="1.15" fill="#163f73"/>
<circle cx="489.00" cy="46.80" r="1.15" fill="#163f73"/>
<circle cx="489.00" cy="49.00" r="1.15" fill="#163f73"/>
<circle cx="489.00" cy="52.50" r="1.15" fill="#163f73"/>
<line x1="482.50" y1="39.40" x2="495.50" y2="39.40" stroke="#111" stroke-width="1.2"/>
<circle cx="507.30" cy="39.00" r="1.2" fill="#3a9a3e"/>
<circle cx="509.80" cy="40.00" r="1.2" fill="#3a9a3e"/>
<circle cx="504.55" cy="38.50" r="1.2" fill="#3a9a3e"/>
<circle cx="502.80" cy="40.50" r="1.2" fill="#3a9a3e"/>
<circle cx="511.55" cy="38.00" r="1.2" fill="#3a9a3e"/>
<circle cx="506.55" cy="41.50" r="1.2" fill="#3a9a3e"/>
<circle cx="509.05" cy="37.00" r="1.2" fill="#3a9a3e"/>
<circle cx="511.55" cy="42.00" r="1.2" fill="#3a9a3e"/>
<circle cx="506.30" cy="36.50" r="1.2" fill="#3a9a3e"/>
<circle cx="508.80" cy="43.00" r="1.2" fill="#3a9a3e"/>
<circle cx="505.80" cy="44.00" r="1.2" fill="#3a9a3e"/>
<circle cx="508.05" cy="45.50" r="1.2" fill="#3a9a3e"/>
<line x1="501.30" y1="39.40" x2="513.30" y2="39.40" stroke="#111" stroke-width="1.2"/>
<text x="6.30" y="146.50" font-size="11" text-anchor="start" font-weight="bold" fill="#000" stroke="#000" stroke-width="0.3">B</text>
<line x1="42.50" y1="153.00" x2="42.50" y2="231.30" stroke="#1c1c1c" stroke-width="1.05"/>
<line x1="41.40" y1="230.80" x2="101.90" y2="230.80" stroke="#1c1c1c" stroke-width="1.05"/>
<line x1="38.90" y1="156.00" x2="42.50" y2="156.00" stroke="#1c1c1c" stroke-width="1.05"/>
<text x="18.75" y="157.70" font-size="7.8" fill="#1c1c1c" stroke="#1c1c1c" stroke-width="0.22"> 000</text>
<path d="M696 0L516 0L516 1120Q440 1050 340 995Q250 945 180 920L180 1090Q330 1160 430 1250Q520 1330 560 1409L696 1409Z" transform="translate(18.748,157.700) scale(0.00381,-0.00381)" fill="#1c1c1c" stroke="#1c1c1c" stroke-width="57.8"/>
<line x1="38.90" y1="170.96" x2="42.50" y2="170.96" stroke="#1c1c1c" stroke-width="1.05"/>
<text x="23.09" y="172.66" font-size="7.8" fill="#1c1c1c" stroke="#1c1c1c" stroke-width="0.22"> 00</text>
<path d="M696 0L516 0L516 1120Q440 1050 340 995Q250 945 180 920L180 1090Q330 1160 430 1250Q520 1330 560 1409L696 1409Z" transform="translate(23.086,172.660) scale(0.00381,-0.00381)" fill="#1c1c1c" stroke="#1c1c1c" stroke-width="57.8"/>
<line x1="38.90" y1="185.92" x2="42.50" y2="185.92" stroke="#1c1c1c" stroke-width="1.05"/>
<text x="27.42" y="187.62" font-size="7.8" fill="#1c1c1c" stroke="#1c1c1c" stroke-width="0.22"> 0</text>
<path d="M696 0L516 0L516 1120Q440 1050 340 995Q250 945 180 920L180 1090Q330 1160 430 1250Q520 1330 560 1409L696 1409Z" transform="translate(27.424,187.620) scale(0.00381,-0.00381)" fill="#1c1c1c" stroke="#1c1c1c" stroke-width="57.8"/>
<line x1="38.90" y1="200.88" x2="42.50" y2="200.88" stroke="#1c1c1c" stroke-width="1.05"/>
<text x="31.76" y="202.58" font-size="7.8" fill="#1c1c1c" stroke="#1c1c1c" stroke-width="0.22"> </text>
<path d="M696 0L516 0L516 1120Q440 1050 340 995Q250 945 180 920L180 1090Q330 1160 430 1250Q520 1330 560 1409L696 1409Z" transform="translate(31.762,202.580) scale(0.00381,-0.00381)" fill="#1c1c1c" stroke="#1c1c1c" stroke-width="57.8"/>
<line x1="38.90" y1="215.84" x2="42.50" y2="215.84" stroke="#1c1c1c" stroke-width="1.05"/>
<text x="25.26" y="217.54" font-size="7.8" fill="#1c1c1c" stroke="#1c1c1c" stroke-width="0.22">0. </text>
<path d="M696 0L516 0L516 1120Q440 1050 340 995Q250 945 180 920L180 1090Q330 1160 430 1250Q520 1330 560 1409L696 1409Z" transform="translate(31.762,217.540) scale(0.00381,-0.00381)" fill="#1c1c1c" stroke="#1c1c1c" stroke-width="57.8"/>
<line x1="38.90" y1="230.80" x2="42.50" y2="230.80" stroke="#1c1c1c" stroke-width="1.05"/>
<text x="20.92" y="232.50" font-size="7.8" fill="#1c1c1c" stroke="#1c1c1c" stroke-width="0.22">0.0 </text>
<path d="M696 0L516 0L516 1120Q440 1050 340 995Q250 945 180 920L180 1090Q330 1160 430 1250Q520 1330 560 1409L696 1409Z" transform="translate(31.762,232.500) scale(0.00381,-0.00381)" fill="#1c1c1c" stroke="#1c1c1c" stroke-width="57.8"/>
<line x1="59.90" y1="230.80" x2="59.90" y2="233.80" stroke="#1c1c1c" stroke-width="1.05"/>
<line x1="85.10" y1="230.80" x2="85.10" y2="233.80" stroke="#1c1c1c" stroke-width="1.05"/>
<text x="59.90" y="243.70" font-size="8.3" text-anchor="middle" font-weight="normal" fill="#1c1c1c" stroke="#1c1c1c" stroke-width="0.22" textLength="18.0" lengthAdjust="spacingAndGlyphs">MolR</text>
<text x="85.10" y="243.70" font-size="8.3" text-anchor="middle" font-weight="normal" fill="#1c1c1c" stroke="#1c1c1c" stroke-width="0.22" textLength="14.8" lengthAdjust="spacingAndGlyphs">TFR</text>
<text x="0" y="0" font-size="8.4" text-anchor="middle" fill="#1c1c1c" textLength="42.6" lengthAdjust="spacingAndGlyphs" transform="translate(11.50,191.00) rotate(-90)" stroke="#1c1c1c" stroke-width="0.25">Cells per mm<tspan font-size="5.5" dy="-3.3">3</tspan></text>
<path d="M59.70 165.00V161.70H85.90V165.00" fill="none" stroke="#1c1c1c" stroke-width="1.05"/>
<circle cx="68.23" cy="157.30" r="0.95" fill="#111"/>
<circle cx="71.28" cy="157.30" r="0.95" fill="#111"/>
<circle cx="74.33" cy="157.30" r="0.95" fill="#111"/>
<circle cx="77.38" cy="157.30" r="0.95" fill="#111"/>
<circle cx="59.30" cy="168.70" r="1.15" fill="#b0072e"/>
<circle cx="52.60" cy="170.50" r="1.15" fill="#b0072e"/>
<circle cx="55.50" cy="170.80" r="1.15" fill="#b0072e"/>
<circle cx="62.00" cy="170.50" r="1.15" fill="#b0072e"/>
<circle cx="64.70" cy="170.30" r="1.15" fill="#b0072e"/>
<circle cx="67.00" cy="170.80" r="1.15" fill="#b0072e"/>
<circle cx="51.70" cy="172.20" r="1.15" fill="#b0072e"/>
<circle cx="54.40" cy="172.50" r="1.15" fill="#b0072e"/>
<circle cx="57.00" cy="172.20" r="1.15" fill="#b0072e"/>
<circle cx="59.80" cy="172.50" r="1.15" fill="#b0072e"/>
<circle cx="62.50" cy="172.20" r="1.15" fill="#b0072e"/>
<circle cx="65.50" cy="172.50" r="1.15" fill="#b0072e"/>
<circle cx="67.30" cy="172.80" r="1.15" fill="#b0072e"/>
<circle cx="51.70" cy="175.20" r="1.15" fill="#b0072e"/>
<circle cx="54.80" cy="175.40" r="1.15" fill="#b0072e"/>
<circle cx="58.80" cy="175.20" r="1.15" fill="#b0072e"/>
<circle cx="62.40" cy="175.40" r="1.15" fill="#b0072e"/>
<circle cx="66.90" cy="175.20" r="1.15" fill="#b0072e"/>
<circle cx="56.60" cy="177.40" r="1.15" fill="#b0072e"/>
<circle cx="61.10" cy="177.40" r="1.15" fill="#b0072e"/>
<circle cx="62.00" cy="178.80" r="1.15" fill="#b0072e"/>
<circle cx="53.90" cy="181.00" r="1.15" fill="#b0072e"/>
<circle cx="58.80" cy="181.20" r="1.15" fill="#b0072e"/>
<circle cx="60.50" cy="180.50" r="1.15" fill="#b0072e"/>
<circle cx="63.80" cy="181.40" r="1.15" fill="#b0072e"/>
<line x1="51.20" y1="174.40" x2="67.80" y2="174.40" stroke="#111" stroke-width="1.2"/>
<circle cx="84.90" cy="171.80" r="1.15" fill="#163f73"/>
<circle cx="80.10" cy="175.60" r="1.15" fill="#163f73"/>
<circle cx="77.60" cy="176.80" r="1.15" fill="#163f73"/>
<circle cx="90.10" cy="176.50" r="1.15" fill="#163f73"/>
<circle cx="77.60" cy="178.50" r="1.15" fill="#163f73"/>
<circle cx="80.30" cy="178.30" r="1.15" fill="#163f73"/>
<circle cx="83.00" cy="178.50" r="1.15" fill="#163f73"/>
<circle cx="85.70" cy="178.30" r="1.15" fill="#163f73"/>
<circle cx="88.30" cy="178.50" r="1.15" fill="#163f73"/>
<circle cx="91.40" cy="178.50" r="1.15" fill="#163f73"/>
<circle cx="77.00" cy="180.80" r="1.15" fill="#163f73"/>
<circle cx="80.30" cy="181.00" r="1.15" fill="#163f73"/>
<circle cx="83.00" cy="181.00" r="1.15" fill="#163f73"/>
<circle cx="85.70" cy="181.00" r="1.15" fill="#163f73"/>
<circle cx="88.30" cy="181.00" r="1.15" fill="#163f73"/>
<circle cx="91.60" cy="180.80" r="1.15" fill="#163f73"/>
<circle cx="80.30" cy="182.50" r="1.15" fill="#163f73"/>
<circle cx="83.00" cy="182.30" r="1.15" fill="#163f73"/>
<circle cx="85.70" cy="182.50" r="1.15" fill="#163f73"/>
<circle cx="88.30" cy="182.30" r="1.15" fill="#163f73"/>
<circle cx="91.00" cy="182.30" r="1.15" fill="#163f73"/>
<circle cx="81.60" cy="183.80" r="1.15" fill="#163f73"/>
<circle cx="84.30" cy="183.70" r="1.15" fill="#163f73"/>
<circle cx="87.40" cy="183.80" r="1.15" fill="#163f73"/>
<circle cx="83.40" cy="186.50" r="1.15" fill="#163f73"/>
<circle cx="84.90" cy="187.20" r="1.15" fill="#163f73"/>
<circle cx="86.10" cy="186.30" r="1.15" fill="#163f73"/>
<line x1="76.20" y1="179.60" x2="93.20" y2="179.60" stroke="#111" stroke-width="1.2"/>
<text x="111.40" y="146.50" font-size="11" text-anchor="start" font-weight="bold" fill="#000" stroke="#000" stroke-width="0.3">D</text>
<line x1="147.50" y1="153.00" x2="147.50" y2="231.30" stroke="#1c1c1c" stroke-width="1.05"/>
<line x1="146.70" y1="230.80" x2="207.20" y2="230.80" stroke="#1c1c1c" stroke-width="1.05"/>
<line x1="144.20" y1="156.00" x2="147.50" y2="156.00" stroke="#1c1c1c" stroke-width="1.05"/>
<text x="124.05" y="157.70" font-size="7.8" fill="#1c1c1c" stroke="#1c1c1c" stroke-width="0.22"> 000</text>
<path d="M696 0L516 0L516 1120Q440 1050 340 995Q250 945 180 920L180 1090Q330 1160 430 1250Q520 1330 560 1409L696 1409Z" transform="translate(124.048,157.700) scale(0.00381,-0.00381)" fill="#1c1c1c" stroke="#1c1c1c" stroke-width="57.8"/>
<line x1="144.20" y1="170.96" x2="147.50" y2="170.96" stroke="#1c1c1c" stroke-width="1.05"/>
<text x="128.39" y="172.66" font-size="7.8" fill="#1c1c1c" stroke="#1c1c1c" stroke-width="0.22"> 00</text>
<path d="M696 0L516 0L516 1120Q440 1050 340 995Q250 945 180 920L180 1090Q330 1160 430 1250Q520 1330 560 1409L696 1409Z" transform="translate(128.386,172.660) scale(0.00381,-0.00381)" fill="#1c1c1c" stroke="#1c1c1c" stroke-width="57.8"/>
<line x1="144.20" y1="185.92" x2="147.50" y2="185.92" stroke="#1c1c1c" stroke-width="1.05"/>
<text x="132.72" y="187.62" font-size="7.8" fill="#1c1c1c" stroke="#1c1c1c" stroke-width="0.22"> 0</text>
<path d="M696 0L516 0L516 1120Q440 1050 340 995Q250 945 180 920L180 1090Q330 1160 430 1250Q520 1330 560 1409L696 1409Z" transform="translate(132.724,187.620) scale(0.00381,-0.00381)" fill="#1c1c1c" stroke="#1c1c1c" stroke-width="57.8"/>
<line x1="144.20" y1="200.88" x2="147.50" y2="200.88" stroke="#1c1c1c" stroke-width="1.05"/>
<text x="137.06" y="202.58" font-size="7.8" fill="#1c1c1c" stroke="#1c1c1c" stroke-width="0.22"> </text>
<path d="M696 0L516 0L516 1120Q440 1050 340 995Q250 945 180 920L180 1090Q330 1160 430 1250Q520 1330 560 1409L696 1409Z" transform="translate(137.062,202.580) scale(0.00381,-0.00381)" fill="#1c1c1c" stroke="#1c1c1c" stroke-width="57.8"/>
<line x1="144.20" y1="215.84" x2="147.50" y2="215.84" stroke="#1c1c1c" stroke-width="1.05"/>
<text x="130.56" y="217.54" font-size="7.8" fill="#1c1c1c" stroke="#1c1c1c" stroke-width="0.22">0. </text>
<path d="M696 0L516 0L516 1120Q440 1050 340 995Q250 945 180 920L180 1090Q330 1160 430 1250Q520 1330 560 1409L696 1409Z" transform="translate(137.062,217.540) scale(0.00381,-0.00381)" fill="#1c1c1c" stroke="#1c1c1c" stroke-width="57.8"/>
<line x1="144.20" y1="230.80" x2="147.50" y2="230.80" stroke="#1c1c1c" stroke-width="1.05"/>
<text x="126.22" y="232.50" font-size="7.8" fill="#1c1c1c" stroke="#1c1c1c" stroke-width="0.22">0.0 </text>
<path d="M696 0L516 0L516 1120Q440 1050 340 995Q250 945 180 920L180 1090Q330 1160 430 1250Q520 1330 560 1409L696 1409Z" transform="translate(137.062,232.500) scale(0.00381,-0.00381)" fill="#1c1c1c" stroke="#1c1c1c" stroke-width="57.8"/>
<line x1="165.20" y1="230.80" x2="165.20" y2="233.80" stroke="#1c1c1c" stroke-width="1.05"/>
<line x1="190.40" y1="230.80" x2="190.40" y2="233.80" stroke="#1c1c1c" stroke-width="1.05"/>
<text x="165.20" y="243.70" font-size="8.3" text-anchor="middle" font-weight="normal" fill="#1c1c1c" stroke="#1c1c1c" stroke-width="0.22" textLength="18.0" lengthAdjust="spacingAndGlyphs">MolR</text>
<text x="190.40" y="243.70" font-size="8.3" text-anchor="middle" font-weight="normal" fill="#1c1c1c" stroke="#1c1c1c" stroke-width="0.22" textLength="14.8" lengthAdjust="spacingAndGlyphs">TFR</text>
<text x="0" y="0" font-size="8.4" text-anchor="middle" fill="#1c1c1c" textLength="42.6" lengthAdjust="spacingAndGlyphs" transform="translate(116.80,191.00) rotate(-90)" stroke="#1c1c1c" stroke-width="0.25">Cells per mm<tspan font-size="5.5" dy="-3.3">3</tspan></text>
<path d="M165.00 166.80V163.50H191.20V166.80" fill="none" stroke="#1c1c1c" stroke-width="1.05"/>
<circle cx="173.53" cy="159.10" r="0.95" fill="#111"/>
<circle cx="176.57" cy="159.10" r="0.95" fill="#111"/>
<circle cx="179.62" cy="159.10" r="0.95" fill="#111"/>
<circle cx="182.67" cy="159.10" r="0.95" fill="#111"/>
<circle cx="161.10" cy="171.10" r="1.15" fill="#b0072e"/>
<circle cx="168.20" cy="170.80" r="1.15" fill="#b0072e"/>
<circle cx="164.80" cy="172.80" r="1.15" fill="#b0072e"/>
<circle cx="157.40" cy="176.80" r="1.15" fill="#b0072e"/>
<circle cx="161.10" cy="177.10" r="1.15" fill="#b0072e"/>
<circle cx="164.80" cy="176.00" r="1.15" fill="#b0072e"/>
<circle cx="168.60" cy="175.70" r="1.15" fill="#b0072e"/>
<circle cx="172.00" cy="176.30" r="1.15" fill="#b0072e"/>
<circle cx="157.40" cy="179.10" r="1.15" fill="#b0072e"/>
<circle cx="164.80" cy="179.10" r="1.15" fill="#b0072e"/>
<circle cx="172.00" cy="179.10" r="1.15" fill="#b0072e"/>
<circle cx="157.40" cy="180.80" r="1.15" fill="#b0072e"/>
<circle cx="172.00" cy="181.70" r="1.15" fill="#b0072e"/>
<circle cx="161.10" cy="183.60" r="1.15" fill="#b0072e"/>
<circle cx="164.80" cy="182.80" r="1.15" fill="#b0072e"/>
<circle cx="168.60" cy="184.00" r="1.15" fill="#b0072e"/>
<circle cx="164.80" cy="185.90" r="1.15" fill="#b0072e"/>
<circle cx="164.80" cy="188.20" r="1.15" fill="#b0072e"/>
<circle cx="168.60" cy="189.30" r="1.15" fill="#b0072e"/>
<circle cx="161.10" cy="190.50" r="1.15" fill="#b0072e"/>
<circle cx="161.10" cy="179.50" r="1.15" fill="#b0072e"/>
<circle cx="168.60" cy="179.50" r="1.15" fill="#b0072e"/>
<line x1="156.30" y1="179.10" x2="173.30" y2="179.10" stroke="#111" stroke-width="1.2"/>
<circle cx="190.60" cy="177.60" r="1.15" fill="#163f73"/>
<circle cx="188.80" cy="180.70" r="1.15" fill="#163f73"/>
<circle cx="183.10" cy="182.50" r="1.15" fill="#163f73"/>
<circle cx="185.80" cy="182.50" r="1.15" fill="#163f73"/>
<circle cx="191.60" cy="182.50" r="1.15" fill="#163f73"/>
<circle cx="194.80" cy="182.50" r="1.15" fill="#163f73"/>
<circle cx="197.90" cy="182.50" r="1.15" fill="#163f73"/>
<circle cx="185.80" cy="184.70" r="1.15" fill="#163f73"/>
<circle cx="188.80" cy="184.70" r="1.15" fill="#163f73"/>
<circle cx="191.60" cy="184.70" r="1.15" fill="#163f73"/>
<circle cx="194.80" cy="184.70" r="1.15" fill="#163f73"/>
<circle cx="183.10" cy="186.50" r="1.15" fill="#163f73"/>
<circle cx="188.80" cy="186.50" r="1.15" fill="#163f73"/>
<circle cx="197.90" cy="186.50" r="1.15" fill="#163f73"/>
<circle cx="185.80" cy="188.30" r="1.15" fill="#163f73"/>
<circle cx="188.80" cy="188.30" r="1.15" fill="#163f73"/>
<circle cx="191.60" cy="188.30" r="1.15" fill="#163f73"/>
<circle cx="194.80" cy="188.30" r="1.15" fill="#163f73"/>
<circle cx="183.10" cy="190.10" r="1.15" fill="#163f73"/>
<circle cx="197.90" cy="190.10" r="1.15" fill="#163f73"/>
<circle cx="188.80" cy="192.30" r="1.15" fill="#163f73"/>
<circle cx="191.60" cy="192.30" r="1.15" fill="#163f73"/>
<circle cx="194.30" cy="192.30" r="1.15" fill="#163f73"/>
<circle cx="185.80" cy="193.20" r="1.15" fill="#163f73"/>
<line x1="182.50" y1="186.30" x2="198.80" y2="186.30" stroke="#111" stroke-width="1.2"/>
<text x="217.50" y="146.50" font-size="11" text-anchor="start" font-weight="bold" fill="#000" stroke="#000" stroke-width="0.3">F</text>
<line x1="246.50" y1="153.00" x2="246.50" y2="231.30" stroke="#1c1c1c" stroke-width="1.05"/>
<line x1="246.20" y1="230.80" x2="306.70" y2="230.80" stroke="#1c1c1c" stroke-width="1.05"/>
<line x1="243.70" y1="156.00" x2="246.50" y2="156.00" stroke="#1c1c1c" stroke-width="1.05"/>
<text x="223.55" y="157.70" font-size="7.8" fill="#1c1c1c" stroke="#1c1c1c" stroke-width="0.22"> 000</text>
<path d="M696 0L516 0L516 1120Q440 1050 340 995Q250 945 180 920L180 1090Q330 1160 430 1250Q520 1330 560 1409L696 1409Z" transform="translate(223.548,157.700) scale(0.00381,-0.00381)" fill="#1c1c1c" stroke="#1c1c1c" stroke-width="57.8"/>
<line x1="243.70" y1="170.96" x2="246.50" y2="170.96" stroke="#1c1c1c" stroke-width="1.05"/>
<text x="227.89" y="172.66" font-size="7.8" fill="#1c1c1c" stroke="#1c1c1c" stroke-width="0.22"> 00</text>
<path d="M696 0L516 0L516 1120Q440 1050 340 995Q250 945 180 920L180 1090Q330 1160 430 1250Q520 1330 560 1409L696 1409Z" transform="translate(227.886,172.660) scale(0.00381,-0.00381)" fill="#1c1c1c" stroke="#1c1c1c" stroke-width="57.8"/>
<line x1="243.70" y1="185.92" x2="246.50" y2="185.92" stroke="#1c1c1c" stroke-width="1.05"/>
<text x="232.22" y="187.62" font-size="7.8" fill="#1c1c1c" stroke="#1c1c1c" stroke-width="0.22"> 0</text>
<path d="M696 0L516 0L516 1120Q440 1050 340 995Q250 945 180 920L180 1090Q330 1160 430 1250Q520 1330 560 1409L696 1409Z" transform="translate(232.224,187.620) scale(0.00381,-0.00381)" fill="#1c1c1c" stroke="#1c1c1c" stroke-width="57.8"/>
<line x1="243.70" y1="200.88" x2="246.50" y2="200.88" stroke="#1c1c1c" stroke-width="1.05"/>
<text x="236.56" y="202.58" font-size="7.8" fill="#1c1c1c" stroke="#1c1c1c" stroke-width="0.22"> </text>
<path d="M696 0L516 0L516 1120Q440 1050 340 995Q250 945 180 920L180 1090Q330 1160 430 1250Q520 1330 560 1409L696 1409Z" transform="translate(236.562,202.580) scale(0.00381,-0.00381)" fill="#1c1c1c" stroke="#1c1c1c" stroke-width="57.8"/>
<line x1="243.70" y1="215.84" x2="246.50" y2="215.84" stroke="#1c1c1c" stroke-width="1.05"/>
<text x="230.06" y="217.54" font-size="7.8" fill="#1c1c1c" stroke="#1c1c1c" stroke-width="0.22">0. </text>
<path d="M696 0L516 0L516 1120Q440 1050 340 995Q250 945 180 920L180 1090Q330 1160 430 1250Q520 1330 560 1409L696 1409Z" transform="translate(236.562,217.540) scale(0.00381,-0.00381)" fill="#1c1c1c" stroke="#1c1c1c" stroke-width="57.8"/>
<line x1="243.70" y1="230.80" x2="246.50" y2="230.80" stroke="#1c1c1c" stroke-width="1.05"/>
<text x="225.72" y="232.50" font-size="7.8" fill="#1c1c1c" stroke="#1c1c1c" stroke-width="0.22">0.0 </text>
<path d="M696 0L516 0L516 1120Q440 1050 340 995Q250 945 180 920L180 1090Q330 1160 430 1250Q520 1330 560 1409L696 1409Z" transform="translate(236.562,232.500) scale(0.00381,-0.00381)" fill="#1c1c1c" stroke="#1c1c1c" stroke-width="57.8"/>
<line x1="264.70" y1="230.80" x2="264.70" y2="233.80" stroke="#1c1c1c" stroke-width="1.05"/>
<line x1="289.90" y1="230.80" x2="289.90" y2="233.80" stroke="#1c1c1c" stroke-width="1.05"/>
<text x="264.70" y="243.70" font-size="8.3" text-anchor="middle" font-weight="normal" fill="#1c1c1c" stroke="#1c1c1c" stroke-width="0.22" textLength="18.0" lengthAdjust="spacingAndGlyphs">MolR</text>
<text x="289.90" y="243.70" font-size="8.3" text-anchor="middle" font-weight="normal" fill="#1c1c1c" stroke="#1c1c1c" stroke-width="0.22" textLength="14.8" lengthAdjust="spacingAndGlyphs">TFR</text>
<text x="0" y="0" font-size="8.4" text-anchor="middle" fill="#1c1c1c" textLength="42.6" lengthAdjust="spacingAndGlyphs" transform="translate(216.30,191.00) rotate(-90)" stroke="#1c1c1c" stroke-width="0.25">Cells per mm<tspan font-size="5.5" dy="-3.3">3</tspan></text>
<path d="M264.50 172.80V169.50H290.70V172.80" fill="none" stroke="#1c1c1c" stroke-width="1.05"/>
<circle cx="277.60" cy="165.10" r="0.95" fill="#111"/>
<circle cx="258.50" cy="178.30" r="1.15" fill="#b0072e"/>
<circle cx="261.30" cy="177.96" r="1.15" fill="#b0072e"/>
<circle cx="264.10" cy="177.62" r="1.15" fill="#b0072e"/>
<circle cx="266.90" cy="177.28" r="1.15" fill="#b0072e"/>
<circle cx="269.70" cy="176.94" r="1.15" fill="#b0072e"/>
<circle cx="272.50" cy="176.60" r="1.15" fill="#b0072e"/>
<circle cx="257.50" cy="180.60" r="1.15" fill="#b0072e"/>
<circle cx="260.30" cy="180.28" r="1.15" fill="#b0072e"/>
<circle cx="263.10" cy="179.96" r="1.15" fill="#b0072e"/>
<circle cx="265.90" cy="179.64" r="1.15" fill="#b0072e"/>
<circle cx="268.70" cy="179.32" r="1.15" fill="#b0072e"/>
<circle cx="271.50" cy="179.00" r="1.15" fill="#b0072e"/>
<circle cx="256.70" cy="183.40" r="1.15" fill="#b0072e"/>
<circle cx="259.66" cy="183.88" r="1.15" fill="#b0072e"/>
<circle cx="262.62" cy="184.36" r="1.15" fill="#b0072e"/>
<circle cx="265.58" cy="184.84" r="1.15" fill="#b0072e"/>
<circle cx="268.54" cy="185.32" r="1.15" fill="#b0072e"/>
<circle cx="271.50" cy="185.80" r="1.15" fill="#b0072e"/>
<circle cx="257.60" cy="185.60" r="1.15" fill="#b0072e"/>
<circle cx="263.00" cy="186.80" r="1.15" fill="#b0072e"/>
<circle cx="267.00" cy="186.90" r="1.15" fill="#b0072e"/>
<circle cx="271.20" cy="186.80" r="1.15" fill="#b0072e"/>
<line x1="256.70" y1="182.10" x2="272.80" y2="182.10" stroke="#111" stroke-width="1.2"/>
<circle cx="294.80" cy="178.00" r="1.15" fill="#163f73"/>
<circle cx="288.50" cy="178.80" r="1.15" fill="#163f73"/>
<circle cx="285.80" cy="179.30" r="1.15" fill="#163f73"/>
<circle cx="285.30" cy="180.90" r="1.15" fill="#163f73"/>
<circle cx="288.50" cy="180.60" r="1.15" fill="#163f73"/>
<circle cx="291.60" cy="180.30" r="1.15" fill="#163f73"/>
<circle cx="285.30" cy="182.50" r="1.15" fill="#163f73"/>
<circle cx="288.50" cy="182.50" r="1.15" fill="#163f73"/>
<circle cx="291.60" cy="182.30" r="1.15" fill="#163f73"/>
<circle cx="294.30" cy="182.50" r="1.15" fill="#163f73"/>
<circle cx="283.20" cy="184.60" r="1.15" fill="#163f73"/>
<circle cx="288.50" cy="184.60" r="1.15" fill="#163f73"/>
<circle cx="291.60" cy="184.60" r="1.15" fill="#163f73"/>
<circle cx="294.80" cy="184.60" r="1.15" fill="#163f73"/>
<circle cx="288.50" cy="186.70" r="1.15" fill="#163f73"/>
<circle cx="291.10" cy="186.70" r="1.15" fill="#163f73"/>
<circle cx="288.50" cy="188.80" r="1.15" fill="#163f73"/>
<circle cx="291.10" cy="188.80" r="1.15" fill="#163f73"/>
<circle cx="288.50" cy="190.90" r="1.15" fill="#163f73"/>
<circle cx="291.10" cy="190.70" r="1.15" fill="#163f73"/>
<circle cx="287.90" cy="193.00" r="1.15" fill="#163f73"/>
<circle cx="291.10" cy="193.00" r="1.15" fill="#163f73"/>
<circle cx="287.90" cy="196.20" r="1.15" fill="#163f73"/>
<circle cx="291.10" cy="196.20" r="1.15" fill="#163f73"/>
<line x1="281.60" y1="184.60" x2="298.50" y2="184.60" stroke="#111" stroke-width="1.2"/>
<text x="316.70" y="146.50" font-size="11" text-anchor="start" font-weight="bold" fill="#000" stroke="#000" stroke-width="0.3">H</text>
<line x1="351.50" y1="153.00" x2="351.50" y2="231.30" stroke="#1c1c1c" stroke-width="1.05"/>
<line x1="351.00" y1="230.80" x2="411.50" y2="230.80" stroke="#1c1c1c" stroke-width="1.05"/>
<line x1="348.50" y1="156.00" x2="351.50" y2="156.00" stroke="#1c1c1c" stroke-width="1.05"/>
<text x="328.35" y="157.70" font-size="7.8" fill="#1c1c1c" stroke="#1c1c1c" stroke-width="0.22"> 000</text>
<path d="M696 0L516 0L516 1120Q440 1050 340 995Q250 945 180 920L180 1090Q330 1160 430 1250Q520 1330 560 1409L696 1409Z" transform="translate(328.348,157.700) scale(0.00381,-0.00381)" fill="#1c1c1c" stroke="#1c1c1c" stroke-width="57.8"/>
<line x1="348.50" y1="170.96" x2="351.50" y2="170.96" stroke="#1c1c1c" stroke-width="1.05"/>
<text x="332.69" y="172.66" font-size="7.8" fill="#1c1c1c" stroke="#1c1c1c" stroke-width="0.22"> 00</text>
<path d="M696 0L516 0L516 1120Q440 1050 340 995Q250 945 180 920L180 1090Q330 1160 430 1250Q520 1330 560 1409L696 1409Z" transform="translate(332.686,172.660) scale(0.00381,-0.00381)" fill="#1c1c1c" stroke="#1c1c1c" stroke-width="57.8"/>
<line x1="348.50" y1="185.92" x2="351.50" y2="185.92" stroke="#1c1c1c" stroke-width="1.05"/>
<text x="337.02" y="187.62" font-size="7.8" fill="#1c1c1c" stroke="#1c1c1c" stroke-width="0.22"> 0</text>
<path d="M696 0L516 0L516 1120Q440 1050 340 995Q250 945 180 920L180 1090Q330 1160 430 1250Q520 1330 560 1409L696 1409Z" transform="translate(337.024,187.620) scale(0.00381,-0.00381)" fill="#1c1c1c" stroke="#1c1c1c" stroke-width="57.8"/>
<line x1="348.50" y1="200.88" x2="351.50" y2="200.88" stroke="#1c1c1c" stroke-width="1.05"/>
<text x="341.36" y="202.58" font-size="7.8" fill="#1c1c1c" stroke="#1c1c1c" stroke-width="0.22"> </text>
<path d="M696 0L516 0L516 1120Q440 1050 340 995Q250 945 180 920L180 1090Q330 1160 430 1250Q520 1330 560 1409L696 1409Z" transform="translate(341.362,202.580) scale(0.00381,-0.00381)" fill="#1c1c1c" stroke="#1c1c1c" stroke-width="57.8"/>
<line x1="348.50" y1="215.84" x2="351.50" y2="215.84" stroke="#1c1c1c" stroke-width="1.05"/>
<text x="334.86" y="217.54" font-size="7.8" fill="#1c1c1c" stroke="#1c1c1c" stroke-width="0.22">0. </text>
<path d="M696 0L516 0L516 1120Q440 1050 340 995Q250 945 180 920L180 1090Q330 1160 430 1250Q520 1330 560 1409L696 1409Z" transform="translate(341.362,217.540) scale(0.00381,-0.00381)" fill="#1c1c1c" stroke="#1c1c1c" stroke-width="57.8"/>
<line x1="348.50" y1="230.80" x2="351.50" y2="230.80" stroke="#1c1c1c" stroke-width="1.05"/>
<text x="330.52" y="232.50" font-size="7.8" fill="#1c1c1c" stroke="#1c1c1c" stroke-width="0.22">0.0 </text>
<path d="M696 0L516 0L516 1120Q440 1050 340 995Q250 945 180 920L180 1090Q330 1160 430 1250Q520 1330 560 1409L696 1409Z" transform="translate(341.362,232.500) scale(0.00381,-0.00381)" fill="#1c1c1c" stroke="#1c1c1c" stroke-width="57.8"/>
<line x1="369.50" y1="230.80" x2="369.50" y2="233.80" stroke="#1c1c1c" stroke-width="1.05"/>
<line x1="394.70" y1="230.80" x2="394.70" y2="233.80" stroke="#1c1c1c" stroke-width="1.05"/>
<text x="369.50" y="243.70" font-size="8.3" text-anchor="middle" font-weight="normal" fill="#1c1c1c" stroke="#1c1c1c" stroke-width="0.22" textLength="18.0" lengthAdjust="spacingAndGlyphs">MolR</text>
<text x="394.70" y="243.70" font-size="8.3" text-anchor="middle" font-weight="normal" fill="#1c1c1c" stroke="#1c1c1c" stroke-width="0.22" textLength="14.8" lengthAdjust="spacingAndGlyphs">TFR</text>
<text x="0" y="0" font-size="8.4" text-anchor="middle" fill="#1c1c1c" textLength="42.6" lengthAdjust="spacingAndGlyphs" transform="translate(321.10,191.00) rotate(-90)" stroke="#1c1c1c" stroke-width="0.25">Cells per mm<tspan font-size="5.5" dy="-3.3">3</tspan></text>
<path d="M369.40 191.00V187.70H395.50V191.00" fill="none" stroke="#1c1c1c" stroke-width="1.05"/>
<circle cx="377.88" cy="183.30" r="0.95" fill="#111"/>
<circle cx="380.93" cy="183.30" r="0.95" fill="#111"/>
<circle cx="383.97" cy="183.30" r="0.95" fill="#111"/>
<circle cx="387.02" cy="183.30" r="0.95" fill="#111"/>
<circle cx="368.60" cy="194.50" r="1.15" fill="#b0072e"/>
<circle cx="377.10" cy="196.00" r="1.15" fill="#b0072e"/>
<circle cx="364.60" cy="197.10" r="1.15" fill="#b0072e"/>
<circle cx="367.40" cy="196.60" r="1.15" fill="#b0072e"/>
<circle cx="370.80" cy="198.30" r="1.15" fill="#b0072e"/>
<circle cx="374.30" cy="197.70" r="1.15" fill="#b0072e"/>
<circle cx="377.00" cy="198.30" r="1.15" fill="#b0072e"/>
<circle cx="362.90" cy="199.40" r="1.15" fill="#b0072e"/>
<circle cx="366.30" cy="199.10" r="1.15" fill="#b0072e"/>
<circle cx="369.70" cy="199.40" r="1.15" fill="#b0072e"/>
<circle cx="373.10" cy="199.10" r="1.15" fill="#b0072e"/>
<circle cx="375.90" cy="199.10" r="1.15" fill="#b0072e"/>
<circle cx="364.00" cy="202.50" r="1.15" fill="#b0072e"/>
<circle cx="366.80" cy="202.80" r="1.15" fill="#b0072e"/>
<circle cx="369.20" cy="202.00" r="1.15" fill="#b0072e"/>
<circle cx="371.40" cy="204.50" r="1.15" fill="#b0072e"/>
<circle cx="374.30" cy="204.30" r="1.15" fill="#b0072e"/>
<circle cx="365.10" cy="205.10" r="1.15" fill="#b0072e"/>
<circle cx="367.40" cy="206.80" r="1.15" fill="#b0072e"/>
<circle cx="369.70" cy="206.60" r="1.15" fill="#b0072e"/>
<circle cx="370.80" cy="208.50" r="1.15" fill="#b0072e"/>
<circle cx="368.00" cy="211.40" r="1.15" fill="#b0072e"/>
<circle cx="370.80" cy="213.10" r="1.15" fill="#b0072e"/>
<circle cx="369.70" cy="216.50" r="1.15" fill="#b0072e"/>
<line x1="361.70" y1="201.10" x2="377.70" y2="201.10" stroke="#111" stroke-width="1.2"/>
<circle cx="390.70" cy="207.40" r="1.15" fill="#163f73"/>
<circle cx="394.20" cy="207.40" r="1.15" fill="#163f73"/>
<circle cx="397.20" cy="207.60" r="1.15" fill="#163f73"/>
<circle cx="400.00" cy="207.40" r="1.15" fill="#163f73"/>
<circle cx="393.80" cy="209.20" r="1.15" fill="#163f73"/>
<circle cx="397.00" cy="209.20" r="1.15" fill="#163f73"/>
<circle cx="390.70" cy="210.80" r="1.15" fill="#163f73"/>
<circle cx="393.80" cy="210.80" r="1.15" fill="#163f73"/>
<circle cx="397.00" cy="210.80" r="1.15" fill="#163f73"/>
<circle cx="393.80" cy="212.70" r="1.15" fill="#163f73"/>
<circle cx="400.00" cy="212.50" r="1.15" fill="#163f73"/>
<circle cx="390.70" cy="213.80" r="1.15" fill="#163f73"/>
<circle cx="397.00" cy="213.80" r="1.15" fill="#163f73"/>
<circle cx="387.40" cy="215.60" r="1.15" fill="#163f73"/>
<circle cx="390.70" cy="215.60" r="1.15" fill="#163f73"/>
<circle cx="393.80" cy="215.60" r="1.15" fill="#163f73"/>
<circle cx="397.00" cy="215.60" r="1.15" fill="#163f73"/>
<circle cx="400.00" cy="215.60" r="1.15" fill="#163f73"/>
<circle cx="403.00" cy="215.60" r="1.15" fill="#163f73"/>
<circle cx="390.70" cy="217.50" r="1.15" fill="#163f73"/>
<circle cx="394.00" cy="217.60" r="1.15" fill="#163f73"/>
<circle cx="397.00" cy="217.50" r="1.15" fill="#163f73"/>
<circle cx="390.70" cy="219.00" r="1.15" fill="#163f73"/>
<circle cx="397.00" cy="219.00" r="1.15" fill="#163f73"/>
<circle cx="393.80" cy="220.50" r="1.15" fill="#163f73"/>
<circle cx="397.00" cy="220.60" r="1.15" fill="#163f73"/>
<circle cx="400.00" cy="220.50" r="1.15" fill="#163f73"/>
<circle cx="390.70" cy="221.90" r="1.15" fill="#163f73"/>
<circle cx="394.00" cy="222.00" r="1.15" fill="#163f73"/>
<circle cx="397.00" cy="221.90" r="1.15" fill="#163f73"/>
<line x1="387.10" y1="215.60" x2="403.20" y2="215.60" stroke="#111" stroke-width="1.2"/>
<text x="425.00" y="146.50" font-size="11" text-anchor="start" font-weight="bold" fill="#000" stroke="#000" stroke-width="0.3">J</text>
<line x1="458.50" y1="153.00" x2="458.50" y2="231.30" stroke="#1c1c1c" stroke-width="1.05"/>
<line x1="457.30" y1="230.80" x2="517.80" y2="230.80" stroke="#1c1c1c" stroke-width="1.05"/>
<line x1="454.80" y1="156.00" x2="458.50" y2="156.00" stroke="#1c1c1c" stroke-width="1.05"/>
<text x="434.65" y="157.70" font-size="7.8" fill="#1c1c1c" stroke="#1c1c1c" stroke-width="0.22"> 000</text>
<path d="M696 0L516 0L516 1120Q440 1050 340 995Q250 945 180 920L180 1090Q330 1160 430 1250Q520 1330 560 1409L696 1409Z" transform="translate(434.648,157.700) scale(0.00381,-0.00381)" fill="#1c1c1c" stroke="#1c1c1c" stroke-width="57.8"/>
<line x1="454.80" y1="170.96" x2="458.50" y2="170.96" stroke="#1c1c1c" stroke-width="1.05"/>
<text x="438.99" y="172.66" font-size="7.8" fill="#1c1c1c" stroke="#1c1c1c" stroke-width="0.22"> 00</text>
<path d="M696 0L516 0L516 1120Q440 1050 340 995Q250 945 180 920L180 1090Q330 1160 430 1250Q520 1330 560 1409L696 1409Z" transform="translate(438.986,172.660) scale(0.00381,-0.00381)" fill="#1c1c1c" stroke="#1c1c1c" stroke-width="57.8"/>
<line x1="454.80" y1="185.92" x2="458.50" y2="185.92" stroke="#1c1c1c" stroke-width="1.05"/>
<text x="443.32" y="187.62" font-size="7.8" fill="#1c1c1c" stroke="#1c1c1c" stroke-width="0.22"> 0</text>
<path d="M696 0L516 0L516 1120Q440 1050 340 995Q250 945 180 920L180 1090Q330 1160 430 1250Q520 1330 560 1409L696 1409Z" transform="translate(443.324,187.620) scale(0.00381,-0.00381)" fill="#1c1c1c" stroke="#1c1c1c" stroke-width="57.8"/>
<line x1="454.80" y1="200.88" x2="458.50" y2="200.88" stroke="#1c1c1c" stroke-width="1.05"/>
<text x="447.66" y="202.58" font-size="7.8" fill="#1c1c1c" stroke="#1c1c1c" stroke-width="0.22"> </text>
<path d="M696 0L516 0L516 1120Q440 1050 340 995Q250 945 180 920L180 1090Q330 1160 430 1250Q520 1330 560 1409L696 1409Z" transform="translate(447.662,202.580) scale(0.00381,-0.00381)" fill="#1c1c1c" stroke="#1c1c1c" stroke-width="57.8"/>
<line x1="454.80" y1="215.84" x2="458.50" y2="215.84" stroke="#1c1c1c" stroke-width="1.05"/>
<text x="441.16" y="217.54" font-size="7.8" fill="#1c1c1c" stroke="#1c1c1c" stroke-width="0.22">0. </text>
<path d="M696 0L516 0L516 1120Q440 1050 340 995Q250 945 180 920L180 1090Q330 1160 430 1250Q520 1330 560 1409L696 1409Z" transform="translate(447.662,217.540) scale(0.00381,-0.00381)" fill="#1c1c1c" stroke="#1c1c1c" stroke-width="57.8"/>
<line x1="454.80" y1="230.80" x2="458.50" y2="230.80" stroke="#1c1c1c" stroke-width="1.05"/>
<text x="436.82" y="232.50" font-size="7.8" fill="#1c1c1c" stroke="#1c1c1c" stroke-width="0.22">0.0 </text>
<path d="M696 0L516 0L516 1120Q440 1050 340 995Q250 945 180 920L180 1090Q330 1160 430 1250Q520 1330 560 1409L696 1409Z" transform="translate(447.662,232.500) scale(0.00381,-0.00381)" fill="#1c1c1c" stroke="#1c1c1c" stroke-width="57.8"/>
<line x1="475.80" y1="230.80" x2="475.80" y2="233.80" stroke="#1c1c1c" stroke-width="1.05"/>
<line x1="501.00" y1="230.80" x2="501.00" y2="233.80" stroke="#1c1c1c" stroke-width="1.05"/>
<text x="475.80" y="243.70" font-size="8.3" text-anchor="middle" font-weight="normal" fill="#1c1c1c" stroke="#1c1c1c" stroke-width="0.22" textLength="18.0" lengthAdjust="spacingAndGlyphs">MolR</text>
<text x="501.00" y="243.70" font-size="8.3" text-anchor="middle" font-weight="normal" fill="#1c1c1c" stroke="#1c1c1c" stroke-width="0.22" textLength="14.8" lengthAdjust="spacingAndGlyphs">TFR</text>
<text x="0" y="0" font-size="8.4" text-anchor="middle" fill="#1c1c1c" textLength="42.6" lengthAdjust="spacingAndGlyphs" transform="translate(427.40,191.00) rotate(-90)" stroke="#1c1c1c" stroke-width="0.25">Cells per mm<tspan font-size="5.5" dy="-3.3">3</tspan></text>
<circle cx="472.80" cy="165.40" r="1.15" fill="#b0072e"/>
<circle cx="475.70" cy="166.40" r="1.15" fill="#b0072e"/>
<circle cx="478.10" cy="165.90" r="1.15" fill="#b0072e"/>
<circle cx="478.60" cy="167.90" r="1.15" fill="#b0072e"/>
<circle cx="480.60" cy="168.30" r="1.15" fill="#b0072e"/>
<circle cx="474.50" cy="168.00" r="1.15" fill="#b0072e"/>
<circle cx="467.90" cy="170.60" r="1.15" fill="#b0072e"/>
<circle cx="475.70" cy="169.80" r="1.15" fill="#b0072e"/>
<circle cx="478.60" cy="170.00" r="1.15" fill="#b0072e"/>
<circle cx="482.00" cy="170.80" r="1.15" fill="#b0072e"/>
<circle cx="471.00" cy="171.00" r="1.15" fill="#b0072e"/>
<circle cx="467.90" cy="173.50" r="1.15" fill="#b0072e"/>
<circle cx="470.80" cy="173.30" r="1.15" fill="#b0072e"/>
<circle cx="473.80" cy="173.50" r="1.15" fill="#b0072e"/>
<circle cx="476.80" cy="173.50" r="1.15" fill="#b0072e"/>
<circle cx="479.60" cy="173.20" r="1.15" fill="#b0072e"/>
<circle cx="482.00" cy="173.70" r="1.15" fill="#b0072e"/>
<circle cx="470.30" cy="176.60" r="1.15" fill="#b0072e"/>
<circle cx="473.30" cy="175.20" r="1.15" fill="#b0072e"/>
<circle cx="476.20" cy="175.70" r="1.15" fill="#b0072e"/>
<circle cx="478.60" cy="176.60" r="1.15" fill="#b0072e"/>
<circle cx="475.20" cy="178.10" r="1.15" fill="#b0072e"/>
<circle cx="477.70" cy="178.10" r="1.15" fill="#b0072e"/>
<circle cx="475.70" cy="181.50" r="1.15" fill="#b0072e"/>
<line x1="467.40" y1="171.80" x2="482.50" y2="171.80" stroke="#111" stroke-width="1.2"/>
<circle cx="493.90" cy="167.00" r="1.15" fill="#163f73"/>
<circle cx="497.60" cy="167.00" r="1.15" fill="#163f73"/>
<circle cx="501.10" cy="167.00" r="1.15" fill="#163f73"/>
<circle cx="505.00" cy="167.00" r="1.15" fill="#163f73"/>
<circle cx="508.90" cy="167.00" r="1.15" fill="#163f73"/>
<circle cx="497.60" cy="168.70" r="1.15" fill="#163f73"/>
<circle cx="501.10" cy="168.70" r="1.15" fill="#163f73"/>
<circle cx="505.00" cy="168.70" r="1.15" fill="#163f73"/>
<circle cx="508.90" cy="168.70" r="1.15" fill="#163f73"/>
<circle cx="497.60" cy="170.60" r="1.15" fill="#163f73"/>
<circle cx="501.10" cy="170.60" r="1.15" fill="#163f73"/>
<circle cx="505.00" cy="170.60" r="1.15" fill="#163f73"/>
<circle cx="508.90" cy="170.60" r="1.15" fill="#163f73"/>
<circle cx="493.90" cy="172.40" r="1.15" fill="#163f73"/>
<circle cx="497.60" cy="172.40" r="1.15" fill="#163f73"/>
<circle cx="497.60" cy="175.00" r="1.15" fill="#163f73"/>
<circle cx="501.10" cy="175.00" r="1.15" fill="#163f73"/>
<circle cx="505.00" cy="175.00" r="1.15" fill="#163f73"/>
<circle cx="508.90" cy="175.00" r="1.15" fill="#163f73"/>
<circle cx="497.60" cy="177.40" r="1.15" fill="#163f73"/>
<circle cx="501.10" cy="177.40" r="1.15" fill="#163f73"/>
<circle cx="505.00" cy="177.40" r="1.15" fill="#163f73"/>
<circle cx="501.10" cy="179.60" r="1.15" fill="#163f73"/>
<circle cx="505.00" cy="179.60" r="1.15" fill="#163f73"/>
<circle cx="501.10" cy="187.40" r="1.15" fill="#163f73"/>
<circle cx="501.10" cy="190.70" r="1.15" fill="#163f73"/>
<line x1="492.30" y1="173.50" x2="510.20" y2="173.50" stroke="#111" stroke-width="1.2"/>
</svg>
</body></html>
